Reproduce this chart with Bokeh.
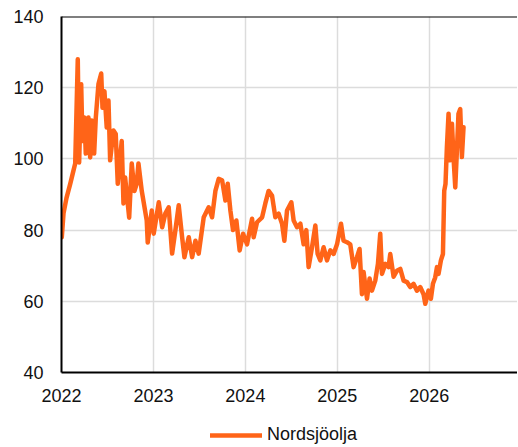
from bokeh.plotting import figure
from bokeh.models import Range1d, FixedTicker, Span, Legend, LegendItem
from bokeh.layouts import column
from bokeh.embed import file_html
from bokeh.resources import INLINE

# Decimal year and price (Brent / Nordsjöolja, USD per barrel)
years = [
    2022.003, 2022.022, 2022.054, 2022.095, 2022.130, 2022.149, 2022.177, 2022.192,
    2022.214, 2022.228, 2022.250, 2022.264, 2022.293, 2022.312, 2022.329, 2022.355,
    2022.373, 2022.402, 2022.432, 2022.446, 2022.467, 2022.492, 2022.511, 2022.529,
    2022.565, 2022.590, 2022.612, 2022.655, 2022.674, 2022.692, 2022.736, 2022.764,
    2022.793, 2022.818, 2022.837, 2022.873, 2022.927, 2022.938, 2022.982, 2023.003,
    2023.058, 2023.095, 2023.130, 2023.166, 2023.203, 2023.239, 2023.275, 2023.312,
    2023.337, 2023.384, 2023.421, 2023.457, 2023.492, 2023.547, 2023.601, 2023.638,
    2023.674, 2023.710, 2023.747, 2023.783, 2023.808, 2023.837, 2023.866, 2023.902,
    2023.938, 2023.975, 2024.018, 2024.073, 2024.090, 2024.127, 2024.182, 2024.217,
    2024.253, 2024.290, 2024.326, 2024.362, 2024.399, 2024.424, 2024.453, 2024.500,
    2024.525, 2024.562, 2024.598, 2024.634, 2024.663, 2024.688, 2024.725, 2024.761,
    2024.786, 2024.815, 2024.851, 2024.888, 2024.924, 2024.960, 2024.997, 2025.040,
    2025.068, 2025.105, 2025.141, 2025.177, 2025.214, 2025.242, 2025.268, 2025.286,
    2025.323, 2025.351, 2025.377, 2025.413, 2025.442, 2025.467, 2025.486, 2025.522,
    2025.558, 2025.576, 2025.612, 2025.649, 2025.685, 2025.721, 2025.758, 2025.793,
    2025.829, 2025.866, 2025.902, 2025.938, 2025.957, 2025.992, 2026.018, 2026.040,
    2026.065, 2026.084, 2026.101, 2026.127, 2026.149, 2026.163, 2026.177, 2026.192,
    2026.210, 2026.228, 2026.247, 2026.264, 2026.283, 2026.301, 2026.318, 2026.337,
    2026.355, 2026.373,
]
price = [
    78.0, 84.7, 89.0, 93.0, 96.7, 98.7, 128.0, 99.0,
    121.0, 105.0, 111.6, 101.5, 111.6, 100.4, 110.8, 101.5,
    111.6, 121.0, 124.0, 114.4, 119.0, 108.8, 116.4, 99.6,
    108.0, 107.0, 93.0, 105.0, 87.5, 94.8, 83.5, 98.7,
    91.0, 93.0, 98.7, 91.0, 82.7, 76.5, 85.5, 79.0,
    87.8, 80.8, 84.7, 86.4, 73.4, 80.0, 87.0, 78.0,
    72.4, 78.0, 72.4, 77.0, 73.4, 83.6, 86.4, 83.6,
    91.0, 94.4, 94.0, 88.3, 93.0, 85.5, 80.0, 82.7,
    74.3, 79.0, 76.0, 83.2, 78.0, 82.2, 83.6, 87.5,
    91.0, 89.7, 83.6, 84.6, 81.8, 77.0, 85.5, 87.8,
    82.7, 80.8, 81.8, 76.0, 80.0, 69.6, 75.2, 81.3,
    73.3, 71.5, 75.2, 71.5, 74.3, 73.3, 76.0, 81.8,
    77.0, 76.6, 76.0, 69.6, 72.4, 74.7, 62.0, 68.2,
    60.7, 66.4, 63.0, 65.8, 70.5, 79.0, 67.7, 70.5,
    69.6, 73.3, 66.9, 68.6, 69.1, 65.8, 65.4, 64.0,
    64.9, 63.0, 64.0, 62.0, 59.3, 63.0, 60.7, 64.9,
    66.7, 69.6, 67.7, 71.5, 73.3, 91.0, 93.0, 103.3,
    112.7, 99.6, 109.9, 100.5, 92.0, 102.4, 112.7, 114.0,
    100.5, 108.9,
]
x_ticks = [2022, 2023, 2024, 2025, 2026]
y_ticks = [40, 60, 80, 100, 120, 140]
series_name = "Nordsjöolja"

FONT = "Liberation Sans"
ORANGE = "#ff6418"

p = figure(frame_width=456, frame_height=356, output_backend="svg", toolbar_location=None,
           x_range=Range1d(2022, 2026.96), y_range=Range1d(40, 140),
           min_border_left=61, min_border_right=0, min_border_top=16,
           min_border_bottom=42)
p.outline_line_color = None
p.background_fill_color = "white"
p.border_fill_color = "white"

p.line(years, price, line_color=ORANGE, line_width=4.5, line_join="round", line_cap="round")

for ax in (p.xaxis[0], p.yaxis[0]):
    ax.axis_line_color = "#000000"
    ax.axis_line_width = 2
    ax.major_tick_out = 0
    ax.major_tick_in = 0
    ax.minor_tick_out = 0
    ax.minor_tick_in = 0
    ax.major_label_text_font = FONT
    ax.major_label_text_font_size = "18px"
    ax.major_label_text_color = "#111111"

p.xaxis[0].ticker = FixedTicker(ticks=x_ticks)
p.yaxis[0].ticker = FixedTicker(ticks=y_ticks)
p.xaxis[0].major_label_standoff = 16
p.yaxis[0].major_label_standoff = 18

p.add_layout(Span(location=140, dimension="width", line_color="#000000", line_width=2))

p.xgrid.ticker = FixedTicker(ticks=x_ticks)
p.ygrid.ticker = FixedTicker(ticks=y_ticks)
p.xgrid.grid_line_color = "#dcdcdc"
p.ygrid.grid_line_color = "#dcdcdc"
p.xgrid.grid_line_width = 1.5
p.ygrid.grid_line_width = 1.5

# Legend strip below the chart (a separate, axis-less figure holding the legend)
leg = figure(frame_width=456, frame_height=33, output_backend="svg", toolbar_location=None,
             x_range=p.x_range, y_range=Range1d(500, 501),
             x_axis_location=None, y_axis_location=None,
             min_border_left=61, min_border_right=0, min_border_top=0, min_border_bottom=0)
leg.outline_line_color = None
leg.grid.visible = False
leg.background_fill_color = "white"
leg.border_fill_color = "white"
r2 = leg.line(years, price, line_color=ORANGE, line_width=4.5, line_cap="round")

legend = Legend(items=[LegendItem(label=series_name, renderers=[r2])],
                location=(149, 2), orientation="horizontal",
                label_text_font=FONT, label_text_font_size="18px",
                label_text_color="#111111", glyph_width=52, glyph_height=20,
                label_height=20,
                border_line_color=None, background_fill_alpha=0,
                margin=0, padding=0, label_standoff=5)
leg.add_layout(legend, "center")

layout = column(p, leg, spacing=0)

open("out.html", "w").write(file_html(layout, INLINE))
